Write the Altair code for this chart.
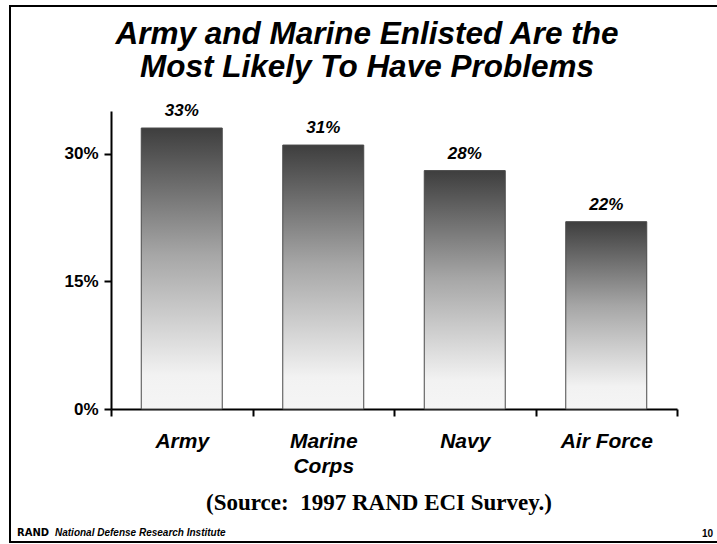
import altair as alt
import pandas as pd

# Share of enlisted personnel reporting problems, by service
branches = ["Army", "Marine Corps", "Navy", "Air Force"]
percent = [33, 31, 28, 22]
y_ticks = [0, 15, 30]

title_lines = ["Army and Marine Enlisted Are the", "Most Likely To Have Problems"]
source_note = "(Source:\u00a0 1997 RAND ECI Survey.)"
footer_org = "RAND"
footer_name = "National Defense Research Institute"
page_number = "10"

df = pd.DataFrame({"branch": branches, "pct": percent})

SANS = "Liberation Sans"
SERIF = "Liberation Serif"

# Plot area geometry (view origin sits at left/top padding)
W, H = 566, 298
PAD = {"left": 111, "top": 111, "right": 40, "bottom": 135}

bar_fill = alt.Gradient(
    gradient="linear",
    x1=0, x2=0, y1=0, y2=1,
    stops=[
        alt.GradientStop(color="#3e3e3e", offset=0),
        alt.GradientStop(color="#a6a6a6", offset=0.45),
        alt.GradientStop(color="#f2f2f2", offset=0.88),
        alt.GradientStop(color="#f5f5f5", offset=1),
    ],
)

# Bands fill the whole axis so the tick marks fall between categories;
# the bars themselves take a fraction of each band.
x_enc = alt.X(
    "branch:N",
    sort=branches,
    title=None,
    scale=alt.Scale(paddingInner=0, paddingOuter=0),
    axis=alt.Axis(
        domainColor="black", domainWidth=2,
        tickColor="black", tickWidth=2, tickSize=7, tickBand="extent",
        labelAngle=0, labelFont=SANS, labelFontSize=21, labelFontWeight="bold",
        labelFontStyle="italic", labelColor="black", labelPadding=14,
        labelLineHeight=25, labelBaseline="top",
        labelExpr="datum.value == 'Marine Corps' ? split(datum.value, ' ') : datum.value",
    ),
)

y_enc = alt.Y(
    "pct:Q",
    title=None,
    scale=alt.Scale(domain=[0, 35], nice=False),
    axis=alt.Axis(
        values=y_ticks, grid=False,
        domainColor="black", domainWidth=2,
        tickColor="black", tickWidth=2, tickSize=7,
        labelFont=SANS, labelFontSize=17, labelFontWeight="bold",
        labelColor="black", labelPadding=6,
        labelExpr="datum.value + '%'",
    ),
)

bars = alt.Chart(df).mark_bar(
    fill=bar_fill, stroke="#4a4a4a", strokeWidth=1,
    width=alt.RelativeBandSize(0.5724),
).encode(x=x_enc, y=y_enc)

value_labels = alt.Chart(df).transform_calculate(
    lbl="datum.pct + '%'"
).mark_text(
    font=SANS, fontSize=17, fontWeight="bold", fontStyle="italic",
    color="black", baseline="alphabetic", dy=-12,
).encode(x=x_enc, y=y_enc, text="lbl:N")

one_row = alt.Data(values=[{}])

title = alt.Chart(one_row).mark_text(
    text=title_lines, font=SANS, fontSize=31.5, fontWeight="bold",
    fontStyle="italic", color="black", align="center",
    baseline="alphabetic", lineHeight=33,
).encode(x=alt.value(256), y=alt.value(-67))

source = alt.Chart(one_row).mark_text(
    text=source_note, font=SERIF, fontSize=23, fontWeight="bold",
    color="black", align="center", baseline="alphabetic",
).encode(x=alt.value(268), y=alt.value(399))

org = alt.Chart(one_row).mark_text(
    text=footer_org, font="DejaVu Sans", fontSize=10, fontWeight="bold",
    color="black", align="left", baseline="alphabetic",
).encode(x=alt.value(-94), y=alt.value(425))

org_name = alt.Chart(one_row).mark_text(
    text=footer_name, font=SANS, fontSize=10, fontWeight="bold",
    fontStyle="italic", color="black", align="left", baseline="alphabetic",
).encode(x=alt.value(-56), y=alt.value(425))

page = alt.Chart(one_row).mark_text(
    text=page_number, font=SANS, fontSize=10, fontWeight="bold",
    color="black", align="right", baseline="alphabetic",
).encode(x=alt.value(602), y=alt.value(426))

# Slide frame: left, top and bottom edges
frame_left = alt.Chart(one_row).mark_rule(color="black", strokeWidth=2).encode(
    x=alt.value(-101), y=alt.value(-105), y2=alt.value(431)
)
frame_top = alt.Chart(one_row).mark_rule(color="black", strokeWidth=2).encode(
    x=alt.value(-102), x2=alt.value(606), y=alt.value(-105)
)
frame_bottom = alt.Chart(one_row).mark_rule(color="black", strokeWidth=2).encode(
    x=alt.value(-102), x2=alt.value(606), y=alt.value(431)
)

chart = alt.layer(
    bars, value_labels, title, source, org, org_name, page,
    frame_left, frame_top, frame_bottom,
).properties(
    width=W, height=H, padding=PAD, autosize="none", background="white"
).configure_view(stroke=None)

chart.save("out.html", embed_options={"renderer": "svg", "actions": False})
